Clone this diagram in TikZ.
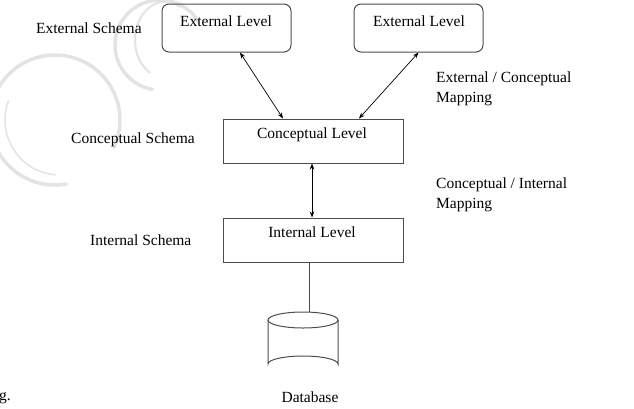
\documentclass[tikz,border=0pt]{standalone}
\usepackage{fontspec}
\setmainfont{Liberation Serif}
\usetikzlibrary{arrows.meta}
\begin{document}
\begin{tikzpicture}[x=1pt,y=-1pt,
  boxline/.style={draw=black!70,line width=1pt},
  levelbox/.style={boxline,minimum width=180pt,minimum height=44pt,inner sep=0pt},
  extbox/.style={boxline,rounded corners=7pt,minimum width=129pt,minimum height=48pt,inner sep=0pt},
  txt/.style={font=\fontsize{15.5}{18}\selectfont,inner sep=0pt,text=black},
  dbl/.style={{Stealth[length=6pt,width=4.5pt]}-{Stealth[length=6pt,width=4.5pt]},line width=0.7pt,black},
  wm/.style={draw=gray!22,line width=3.5pt,line cap=round}]
\useasboundingbox (0,0) rectangle (634,408);
\begin{scope}
\clip (0,0) rectangle (634,408);
% faint watermark
\draw[wm] (55,120) ++(80:65) arc[start angle=80,end angle=385,radius=65];
\draw[wm,line width=1.5pt] (60,120) ++(95:55) arc[start angle=95,end angle=200,radius=55];
\draw[wm] (160,45) ++(100:45) arc[start angle=100,end angle=330,radius=45];
\draw[wm,line width=2pt] (166,45) ++(120:32) arc[start angle=120,end angle=300,x radius=30,y radius=38];
\draw[wm] (225,-38) ++(205:45) arc[start angle=205,end angle=335,radius=45];
\end{scope}
% boxes
\node[extbox] (ext1) at (226.5,28) {};
\node[extbox] (ext2) at (418.5,28) {};
\node[levelbox] (conc) at (313,141) {};
\node[levelbox] (intl) at (313,240) {};
% box texts
\node[txt,anchor=base] (ext1t) at (226,26) {External Level};
\node[txt,anchor=base] (ext2t) at (419,26) {External Level};
\node[txt,anchor=base] (conct) at (312,138) {Conceptual Level};
\node[txt,anchor=base] (intlt) at (312,237) {Internal Level};
% side labels
\node[txt,anchor=base west] (extschema) at (36,33) {External Schema};
\node[txt,anchor=base west] (concschema) at (71,143) {Conceptual Schema};
\node[txt,anchor=base west] (intschema) at (90,245) {Internal Schema};
\node[txt,anchor=base west] (map1a) at (436,82) {External / Conceptual};
\node[txt,anchor=base west] (map1b) at (436,102) {Mapping};
\node[txt,anchor=base west] (map2a) at (436,188) {Conceptual / Internal};
\node[txt,anchor=base west] (map2b) at (436,208) {Mapping};
\node[txt,anchor=base] (dbt) at (310,402) {Database};
\node[txt,anchor=base west] (gdot) at (-1,400) {g.};
% arrows
\draw[dbl] ([xshift=13.5pt]ext1.south) -- ([xshift=-30pt]conc.north);
\draw[dbl] (ext2.south) -- ([xshift=46pt]conc.north);
\draw[dbl] ([xshift=-1pt]conc.south) -- ([xshift=-1pt]intl.north);
% database cylinder
\coordinate (dbtop) at (309,312);
\draw[boxline] ([xshift=-4pt]intl.south) -- (dbtop);
\draw[boxline,fill=white] (303,320) ellipse[x radius=35,y radius=8];
\draw[boxline] (268,320) -- (268,364) arc[start angle=180,end angle=360,x radius=35,y radius=8] -- (338,320);
\end{tikzpicture}
\end{document}
